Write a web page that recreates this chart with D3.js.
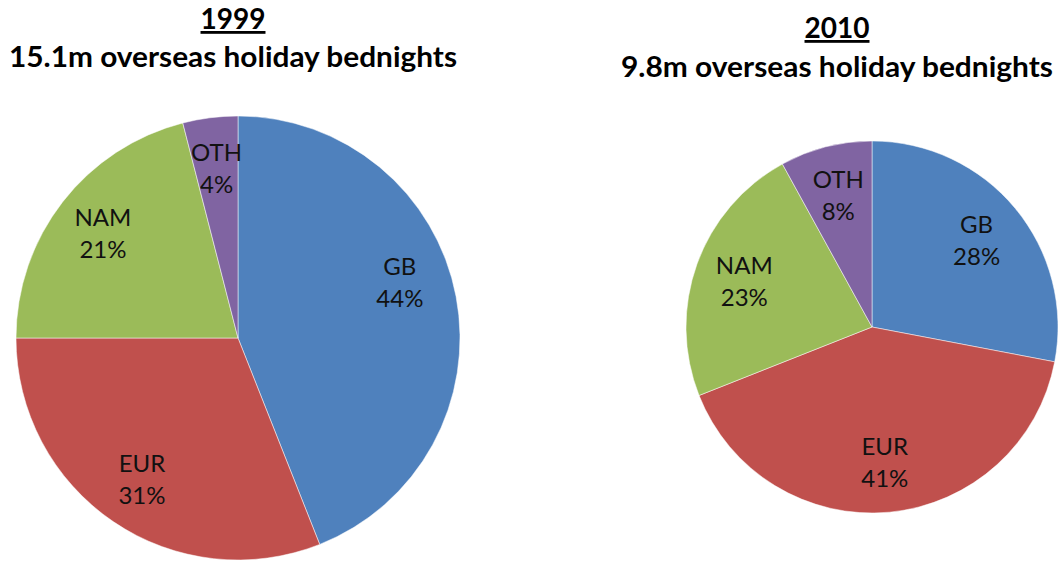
<!DOCTYPE html>
<html>
<head>
<meta charset="utf-8">
<script src="https://cdn.jsdelivr.net/npm/d3@7"></script>
<style>
  html, body { margin: 0; padding: 0; background: #fff; }
  svg { display: block; }
</style>
</head>
<body>
<svg id="chart" width="1059" height="562"></svg>
<script>
// Regions of overseas holiday bednights, share in percent
const regions = ["GB", "EUR", "NAM", "OTH"];
const share1999 = [44, 31, 21, 4];
const share2010 = [28, 41, 23, 8];
const years = ["1999", "2010"];
const subtitles = ["15.1m overseas holiday bednights", "9.8m overseas holiday bednights"];
const regionColors = ["#4F81BD", "#C0504D", "#9BBB59", "#8064A2"];

const svg = d3.select("#chart");
const color = d3.scaleOrdinal().domain(regions).range(regionColors);

const pie = d3.pie().sort(null).value(d => d.value);

// Layout for each pie panel
const panels = [
  { year: years[0], subtitle: subtitles[0], values: share1999,
    cx: 238, cy: 338, r: 222, labelFrac: 0.77,
    titleX: 233, yearY: 29, subY: 67, subW: 448, labelNudge: { GB: -8 } },
  { year: years[1], subtitle: subtitles[1], values: share2010,
    cx: 872, cy: 327, r: 186, labelFrac: 0.73,
    titleX: 837, yearY: 38, subY: 77, subW: 432, labelNudge: {} }
];

const fontFamily = "Lato, 'Open Sans', sans-serif";

panels.forEach(p => {
  const data = regions.map((k, i) => ({ key: k, value: p.values[i] }));
  const arcs = pie(data);
  const arc = d3.arc().innerRadius(0).outerRadius(p.r);

  const g = svg.append("g").attr("transform", `translate(${p.cx},${p.cy})`);

  g.selectAll("path.slice")
    .data(arcs)
    .join("path")
    .attr("class", "slice")
    .attr("d", arc)
    .attr("fill", d => color(d.data.key))
    .attr("stroke", "#ffffff")
    .attr("stroke-width", 0.5);

  // Data labels: category name over percentage, placed inside each slice
  const lr = p.r * p.labelFrac;
  const labels = g.selectAll("g.label")
    .data(arcs)
    .join("g")
    .attr("class", "label")
    .attr("transform", d => {
      const nudge = (p.labelNudge[d.data.key] || 0) * Math.PI / 180;
      const a = (d.startAngle + d.endAngle) / 2 + nudge;
      return `translate(${lr * Math.sin(a)},${-lr * Math.cos(a)})`;
    });

  labels.append("text")
    .attr("text-anchor", "middle")
    .attr("y", -7.5)
    .attr("font-family", fontFamily)
    .attr("font-size", 24)
    .attr("fill", "#111")
    .text(d => d.data.key);

  labels.append("text")
    .attr("text-anchor", "middle")
    .attr("y", 24.5)
    .attr("font-family", fontFamily)
    .attr("font-size", 24)
    .attr("fill", "#111")
    .text(d => d.data.value + "%");

  // Titles
  svg.append("text")
    .attr("x", p.titleX)
    .attr("y", p.yearY)
    .attr("text-anchor", "middle")
    .attr("font-family", fontFamily)
    .attr("font-weight", "bold")
    .attr("font-size", 28)
    .attr("text-decoration", "underline")
    .attr("fill", "#000")
    .text(p.year);

  svg.append("text")
    .attr("x", p.titleX)
    .attr("y", p.subY)
    .attr("text-anchor", "middle")
    .attr("font-family", fontFamily)
    .attr("font-weight", "bold")
    .attr("font-size", 28)
    .attr("textLength", p.subW)
    .attr("lengthAdjust", "spacingAndGlyphs")
    .attr("fill", "#000")
    .text(p.subtitle);
});
</script>
</body>
</html>
